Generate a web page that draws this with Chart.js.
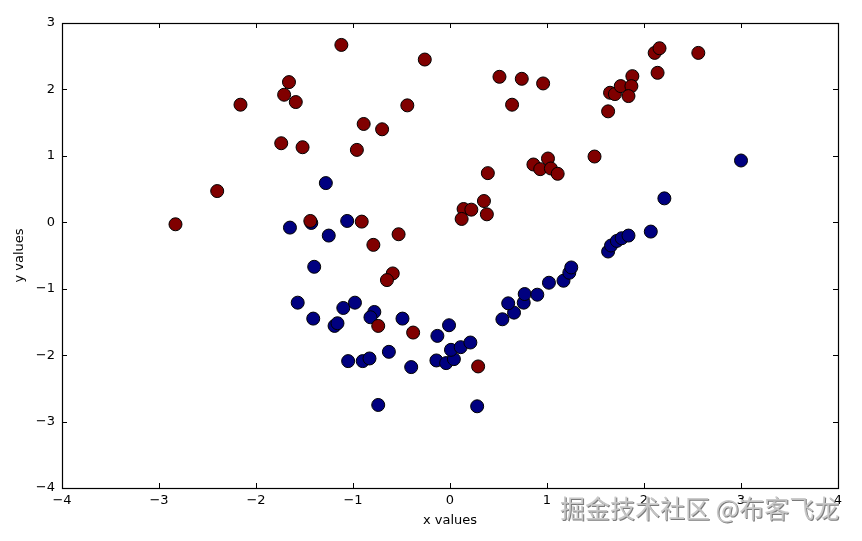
<!DOCTYPE html>
<html>
<head>
<meta charset="utf-8">
<script src="https://cdn.jsdelivr.net/npm/chart.js@4/dist/chart.umd.min.js"></script>
<style>
html,body{margin:0;padding:0;background:#fff;}
#wrap{width:862px;height:541px;}
</style>
</head>
<body>
<div id="wrap"><canvas id="c" width="862" height="541"></canvas></div>
<script>
const redX = [-2.83, -2.40, -2.16, -1.74, -1.71, -1.66, -1.59, -1.52, -1.12, -0.26, -0.44, -0.89, -0.70, -0.96, 0.51, 0.74, 0.96, 0.64, 0.39, 0.86, 1.01, 0.93, 1.04, 1.11, 0.35, 0.14, 0.22, 0.12, 0.38, -1.44, -0.91, -0.79, -0.53, -0.59, -0.65, -0.74, -0.38, 0.29, 1.65, 1.70, 1.76, 1.88, 1.87, 1.84, 1.63, 2.11, 2.16, 2.14, 2.56, 1.49];
const redY = [-0.03, 0.47, 1.77, 1.19, 1.92, 2.11, 1.81, 1.13, 2.67, 2.45, 1.76, 1.48, 1.40, 1.09, 2.19, 2.16, 2.09, 1.77, 0.74, 0.87, 0.96, 0.80, 0.81, 0.73, 0.32, 0.20, 0.19, 0.05, 0.12, 0.02, 0.01, -0.34, -0.18, -0.77, -0.87, -1.56, -1.66, -2.17, 1.95, 1.93, 2.05, 2.20, 2.05, 1.90, 1.67, 2.55, 2.62, 2.25, 2.55, 0.99];
const blueX = [-1.65, -1.28, -1.06, -1.25, -1.40, -1.43, -1.57, -1.41, -1.10, -0.98, -1.19, -1.16, -0.78, -0.82, -0.49, -1.05, -0.90, -0.83, -0.63, -0.40, -0.74, 0.28, -0.13, -0.01, -0.14, -0.04, 0.04, 0.01, 0.11, 0.21, 0.54, 0.66, 0.60, 0.76, 0.77, 0.90, 1.02, 1.17, 1.23, 1.25, 1.63, 1.66, 1.72, 1.77, 1.84, 2.07, 2.21, 3.00];
const blueY = [-0.08, 0.59, 0.02, -0.20, -0.67, -0.01, -1.21, -1.45, -1.29, -1.21, -1.56, -1.52, -1.35, -1.43, -1.45, -2.09, -2.09, -2.05, -1.95, -2.18, -2.75, -2.77, -1.71, -1.55, -2.08, -2.12, -2.06, -1.92, -1.88, -1.81, -1.46, -1.36, -1.22, -1.21, -1.08, -1.09, -0.91, -0.88, -0.76, -0.68, -0.44, -0.35, -0.28, -0.24, -0.20, -0.14, 0.36, 0.93];
const xTicks = [-4, -3, -2, -1, 0, 1, 2, 3, 4];
const yTicks = [-4, -3, -2, -1, 0, 1, 2, 3];
const xLabel = 'x values';
const yLabel = 'y values';
const watermark = '掘金技术社区 @布客飞龙';

const toPts = (xs, ys) => xs.map((x, i) => ({x: x, y: ys[i]}));
const FONT = 'DejaVu Sans';

const framePlugin = {
  id: 'frame',
  afterDatasetsDraw(chart) {
    const {ctx, chartArea: a, scales} = chart;
    ctx.save();
    ctx.strokeStyle = '#000';
    ctx.lineWidth = 1;
    const L = 5;
    ctx.beginPath();
    scales.x.ticks.forEach(t => {
      const px = Math.round(scales.x.getPixelForValue(t.value)) + 0.5;
      ctx.moveTo(px, a.bottom); ctx.lineTo(px, a.bottom - L);
      ctx.moveTo(px, a.top); ctx.lineTo(px, a.top + L);
    });
    scales.y.ticks.forEach(t => {
      const py = Math.round(scales.y.getPixelForValue(t.value)) + 0.5;
      ctx.moveTo(a.left, py); ctx.lineTo(a.left + L, py);
      ctx.moveTo(a.right, py); ctx.lineTo(a.right - L, py);
    });
    ctx.stroke();
    ctx.lineWidth = 1.2;
    ctx.strokeRect(Math.round(a.left) + 0.5, Math.round(a.top) + 0.5, Math.round(a.right - a.left), Math.round(a.bottom - a.top));
    ctx.restore();
  },
  afterDraw(chart) {
    const ctx = chart.ctx;
    ctx.save();
    ctx.font = '25px "Noto Sans CJK SC"';
    ctx.textBaseline = 'middle';
    ctx.textAlign = 'left';
    ctx.fillStyle = 'rgba(90,90,90,0.8)';
    ctx.fillText(watermark, 561, 509);
    ctx.fillStyle = 'rgba(200,200,200,0.95)';
    ctx.fillText(watermark, 560, 508);
    ctx.restore();
  }
};

new Chart(document.getElementById('c'), {
  type: 'scatter',
  data: {
    datasets: [
      {
        label: 'red',
        data: toPts(redX, redY),
        backgroundColor: 'rgb(128,0,0)',
        borderColor: '#000',
        borderWidth: 1,
        pointRadius: 6.5,
        pointHoverRadius: 6.5
      },
      {
        label: 'blue',
        data: toPts(blueX, blueY),
        backgroundColor: 'rgb(0,0,128)',
        borderColor: '#000',
        borderWidth: 1,
        pointRadius: 6.5,
        pointHoverRadius: 6.5
      }
    ]
  },
  options: {
    responsive: false,
    animation: false,
    devicePixelRatio: 1,
    layout: {padding: {top: 23, right: 24, left: 0, bottom: 0}},
    plugins: {legend: {display: false}, tooltip: {enabled: false}},
    scales: {
      x: {
        type: 'linear',
        min: -4, max: 4,
        afterFit: s => { s.height = 53; },
        afterBuildTicks: s => { s.ticks = xTicks.map(v => ({value: v})); },
        grid: {display: false, drawTicks: false},
        border: {display: false},
        ticks: {
          color: '#000', padding: 5, maxRotation: 0,
          font: {family: FONT, size: 13},
          callback: v => String(v).replace('-', '\u2212')
        },
        title: {display: true, text: xLabel, color: '#000', font: {family: FONT, size: 13}, padding: {top: 0, bottom: 13}}
      },
      y: {
        type: 'linear',
        min: -4, max: 3,
        afterFit: s => { s.width = 62; },
        afterBuildTicks: s => { s.ticks = yTicks.map(v => ({value: v})); },
        grid: {display: false, drawTicks: false},
        border: {display: false},
        ticks: {
          color: '#000', padding: 7,
          font: {family: FONT, size: 13},
          callback: v => String(v).replace('-', '\u2212')
        },
        title: {display: true, text: yLabel, color: '#000', font: {family: FONT, size: 13}, padding: {top: 12, bottom: 0}}
      }
    }
  },
  plugins: [framePlugin]
});
</script>
</body>
</html>
